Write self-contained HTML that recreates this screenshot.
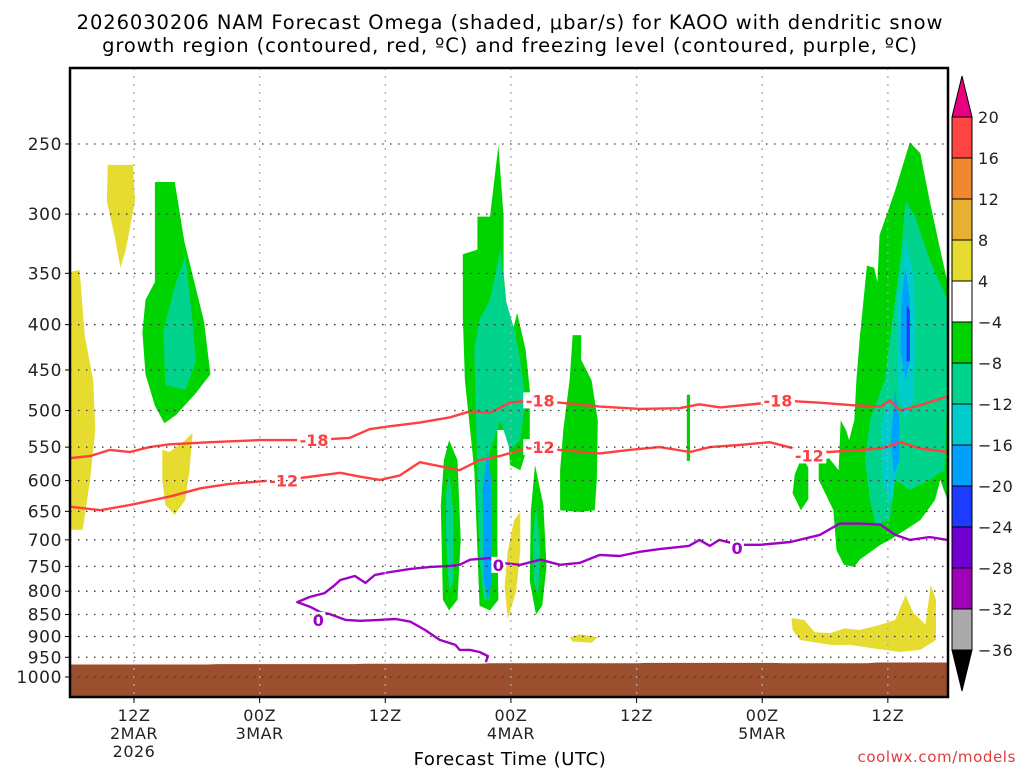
<!DOCTYPE html>
<html><head><meta charset="utf-8">
<style>
html,body{margin:0;padding:0;background:#fff;}
svg{display:block;font-family:"DejaVu Sans","Liberation Sans",sans-serif;}
</style></head>
<body>
<svg id="chart" width="1024" height="768" viewBox="0 0 1024 768" xmlns="http://www.w3.org/2000/svg">
<text x="510" y="29" font-size="19.5" letter-spacing="0.9" text-anchor="middle" fill="#000">2026030206 NAM Forecast Omega (shaded, μbar/s) for KAOO with dendritic snow</text>
<text x="510" y="52" font-size="19.5" letter-spacing="0.9" text-anchor="middle" fill="#000">growth region (contoured, red, ºC) and freezing level (contoured, purple, ºC)</text>
<g id="plot"></g>
<text x="510" y="765" font-size="18" letter-spacing="0.6" text-anchor="middle" fill="#000">Forecast Time (UTC)</text>
<text x="1016" y="762" font-size="15" letter-spacing="0.6" text-anchor="end" fill="#e03c3c">coolwx.com/models</text>
</svg>
<script>
// ---- axis tick data ----
const pressureTicks = [250,300,350,400,450,500,550,600,650,700,750,800,850,900,950,1000];
const timeTickHours = [12,24,36,48,60,72,84];
const timeTickLine1 = ["12Z","00Z","12Z","00Z","12Z","00Z","12Z"];
const timeTickLine2 = ["2MAR","3MAR","","4MAR","","5MAR",""];
const timeTickLine3 = ["2026","","","","","",""];
// ---- colorbar ----
const cbLevels = [20,16,12,8,4,-4,-8,-12,-16,-20,-24,-28,-32,-36];
const cbColors = ["#ff4444","#f08830","#e8b030","#e6dc30","#ffffff","#00d400","#00d48c","#00cccc","#00a0ff","#1e3cff","#7000d0","#a000b8","#aaaaaa"];
// ---- ground (surface pressure) ----
const groundHours = [5.8,19,20,33,34,45,46,60,61,73,74,82,83,89.8];
const groundP = [968,968,967,967,966,966,965,965,964,964,965,965,963,963];
// ---- -18C line ----
const m18Hours = [5.8,7.8,9.7,11.6,13.5,15.4,19.3,24,29,32.6,34.5,36.4,39.3,42.2,44.1,46,47.9,49.8,52.7,56.5,60.3,64.1,66,68,71.8,73.7,77.5,80.4,83.3,84.2,85.2,87.1,89.7];
const m18P = [566,563,554,557,550,546,543,540,540,537,525,521,516,509,501,503,490,487,490,495,498,497,492,496,491,487,490,493,495,487,500,493,482];
// ---- -12C line ----
const m12Hours = [5.8,8.8,11.7,15.5,18.4,21.2,25,27.9,31.7,33.6,35.5,37.4,39.3,41.2,43.1,45,46.9,48.3,49.8,52.7,56.5,59.3,62.2,65.1,67,69.8,72.7,75.6,78.4,81.3,83.3,85.2,87.1,89.7];
const m12P = [642,648,639,625,612,605,600,596,588,594,599,592,572,578,584,569,563,557,550,554,559,554,550,557,550,547,543,554,557,554,552,543,552,557];
// ---- 0C freezing level ----
const zeroHours = [45.6,45.8,45,44.1,43.1,42.7,41.2,39.8,38.4,37,35.5,33.6,32.2,30.7,29.8,28.8,27.6,28.8,30.2,31.2,31.7,33.1,34.1,35,36.5,38.4,40.3,42.2,43.1,44.1,46,47,48.9,50.8,52.7,54.6,56.5,58.4,60.3,62.2,65,66,67,67.9,69.8,71.8,74.7,77.5,79.4,81.3,83.3,84.7,86.1,88,89.7];
const zeroP = [962,947,937,932,932,920,908,885,866,860,862,864,862,849,845,833,823,812,804,787,777,769,783,767,761,755,751,749,747,737,734,743,747,737,747,743,728,730,722,717,711,700,711,700,709,709,704,691,671,671,673,691,700,695,700];
// ---- shaded omega regions ----
const blobLevels = [3,3,5,6,3,5,6,8,5,6,5,6,3,5,3,5,5,5,6,7,7,8,8,9,3];
const blobHours = [
 [5.8,6.8,7.3,8.1,8.3,7.8,7.1,5.8],
 [9.5,11.9,12.1,11.2,10.7,10.2,9.4],
 [14,15.9,16.8,18.7,19.3,17.9,16,14.9,14,13.1,12.8,13.1,14],
 [16.9,17.6,17.9,16.9,16,15,14.8,15.9],
 [14.7,15.4,16.9,17.6,17.3,16.9,15.9,15,14.7],
 [46.8,47.3,47.3,47.9,48.6,49.4,49.8,49.8,48.9,47.9,47.7,46.7,46.7,46.8,46,45,44.8,44.5,44.1,43.6,43.4,43.4,44.8,44.8,46],
 [47,47.5,48.4,48.9,49.4,48.9,47.9,47,46,45.7,46,45.4,45,44.8,44.5,45,46],
 [45.8,46.2,46.2,45.8,45.4,45.3],
 [42.1,42.9,43.2,42.9,42.1,41.5,41.3,41.6],
 [42.1,42.5,42.5,42.1,41.8,41.8],
 [50.3,51.1,51.4,51,50.4,49.8,49.9],
 [50.4,50.8,50.6,50.2,50.1],
 [48.3,48.9,48.9,48.5,47.7,47.4,47.7],
 [53.9,54.7,54.7,55.7,56.3,56.2,56,54.6,52.7,52.7,53,53.6],
 [53.6,54.6,56.3,55.7,53.9],
 [64.8,65.1,65.1,64.8],
 [75.1,75.8,76.4,76.4,75.7,74.9],
 [86.1,87.1,88,89,89.7,89.7,89,88.5,87.1,85.7,84.2,83.3,81.3,80.8,79.8,79.1,78.8,77.4,77.4,78.4,79.3,79.5,80,80.3,80.8,81,81.3,82,82.7,83,83.2,84.7],
 [85.7,86.6,88,89.7,89.7,89.4,88,86.1,84.7,84.2,82.8,82.3,81.8,82.3,83.7,84.2,85.2],
 [85.7,86.4,86.7,86.4,85.7,85,84.9],
 [84,84.8,84.9,84.3,83.5,83.4],
 [85.7,86.1,86.1,85.7,85.2,85.3],
 [84.7,85.1,85.1,84.6,84.3],
 [85.8,86.1,86.1,85.8],
 [74.8,76,77,78.5,79.9,81.3,83.3,84.7,85.7,86.4,87.6,88.1,88.6,88.6,87.1,85.2,82.3,80.4,78.5,75.6,74.9]
];
const blobP = [
 [349,347,412,462,526,600,682,682],
 [264,264,290,330,345,320,290],
 [276,276,322,397,455,478,506,517,494,455,408,375,358],
 [335,397,440,474,471,468,407,362],
 [554,557,540,530,584,631,656,639,600],
 [251,302,350,418,388,427,474,540,584,576,526,526,700,818,841,831,719,584,526,462,392,333,329,302,302],
 [329,375,408,440,487,540,554,513,554,665,818,818,737,584,427,395,375],
 [554,615,777,818,777,615],
 [540,569,700,818,841,818,640,569],
 [590,650,780,800,700,620],
 [576,640,750,830,850,780,650],
 [640,720,810,780,700],
 [665,651,720,800,860,790,720],
 [411,411,438,462,513,599,648,651,648,584,526,462],
 [902,895,902,915,912],
 [480,480,570,570],
 [591,563,580,630,648,620],
 [249,256,290,329,358,631,599,631,665,682,700,709,737,751,747,719,648,599,569,566,584,513,526,540,513,462,416,343,345,358,317,282],
 [290,302,338,375,474,584,599,615,599,665,673,631,569,513,462,416,338],
 [321,349,408,487,513,474,375],
 [487,513,580,640,600,520],
 [345,375,438,462,427,375],
 [474,513,569,590,540],
 [380,385,440,440],
 [858,862,890,892,881,885,873,862,808,845,873,787,818,908,932,937,927,920,920,908,885]
];
// ---- contour labels ----
const labelTexts = ["-18","-12","-18","-12","-18","-12","0","0","0"];
const labelHours = [29.2,26.3,50.8,50.8,73.5,76.5,29.6,46.8,69.6];
const labelP = [540,600,487,550,487,562,862,747,715];
const labelColors = ["#ff4040","#ff4040","#ff4040","#ff4040","#ff4040","#ff4040","#a000c8","#a000c8","#a000c8"];

const L=70,R=948,T=68,B=697;
function xs(h){return 134+(h-12)*10.47;}
function ys(p){return 677+384.5*Math.log(p/1000);}
const NS="http://www.w3.org/2000/svg";
const plot=document.getElementById('plot');
const svg=document.getElementById('chart');
function mk(tag,attrs,parent){const e=document.createElementNS(NS,tag);for(const k in attrs)e.setAttribute(k,attrs[k]);(parent||plot).appendChild(e);return e;}

const defs=mk('defs',{},svg);
const cp=mk('clipPath',{id:'clip'},defs);
mk('rect',{x:L,y:T,width:R-L,height:B-T},cp);
const g=mk('g',{'clip-path':'url(#clip)'});



for(let i=0;i<blobHours.length;i++){
  const pts=blobHours[i].map((h,j)=>xs(h).toFixed(1)+','+ys(blobP[i][j]).toFixed(1)).join(' ');
  const e=mk('polygon',{points:pts,fill:cbColors[blobLevels[i]]},g);
  
  
}
{
  let d='M'+xs(groundHours[0])+','+B;
  groundHours.forEach((h,j)=>{d+=' L'+xs(h).toFixed(1)+','+ys(groundP[j]).toFixed(1);});
  d+=' L'+xs(groundHours[groundHours.length-1])+','+B+' Z';
  const e=mk('path',{d:d,fill:'#9c4f2c'},g);
  
  
}
pressureTicks.forEach(p=>{
  const e=mk('line',{x1:L,x2:R,y1:ys(p),y2:ys(p),stroke:'#333','stroke-width':1.3,'stroke-dasharray':'1.5 6.5'});
  
  
});
timeTickHours.forEach(h=>{
  const e=mk('line',{x1:xs(h),x2:xs(h),y1:T,y2:B,stroke:'#aaa','stroke-width':1.3,'stroke-dasharray':'2 6'});
  
  
});
function line(hs,ps,color,name){
  const d=hs.map((h,j)=>(j?'L':'M')+xs(h).toFixed(1)+','+ys(ps[j]).toFixed(1)).join(' ');
  const e=mk('path',{d:d,fill:'none',stroke:color,'stroke-width':2.4,'stroke-linejoin':'round'},g);
  
  
}
line(m18Hours,m18P,'#ff4040','contour-minus18');
line(m12Hours,m12P,'#ff4040','contour-minus12');
line(zeroHours,zeroP,'#a000c8','freezing-level-0');
labelTexts.forEach((t,i)=>{
  const x=xs(labelHours[i]),y=ys(labelP[i]);
  const w=t.length*10+4;
  const r=mk('rect',{x:x-w/2,y:y-8,width:w,height:16,fill:'#fff'},g);
  
  
  const e=mk('text',{x:x,y:y+6,'font-size':16,'font-weight':'bold','text-anchor':'middle',fill:labelColors[i]},g);
  e.textContent=t;
  
  
});
{
const e=mk('rect',{x:L,y:T,width:R-L,height:B-T,fill:'none',stroke:'#000','stroke-width':2.5});


}
pressureTicks.forEach(p=>{
  const t=mk('line',{x1:L-5,x2:L,y1:ys(p),y2:ys(p),stroke:'#000','stroke-width':1});
  
  
  const e=mk('text',{x:L-8,y:ys(p)+6,'font-size':17,'letter-spacing':'0.6','text-anchor':'end',fill:'#222'});
  e.textContent=p;
  
  
});
timeTickHours.forEach((h,i)=>{
  const x=xs(h);
  const t=mk('line',{x1:x,x2:x,y1:B,y2:B+6,stroke:'#000','stroke-width':1});
  
  
  [timeTickLine1[i],timeTickLine2[i],timeTickLine3[i]].forEach((s,k)=>{
    if(!s)return;
    const e=mk('text',{x:x,y:721+k*18,'font-size':16,'letter-spacing':'0.5','text-anchor':'middle',fill:'#222'});
    e.textContent=s;
    
    
  });
});
const cbX=952,cbW=20,cbTop=117,cbStep=41;
function cy(i){return cbTop+i*cbStep;}
{
const e=mk('polygon',{points:`${cbX},${cy(0)} ${cbX+cbW},${cy(0)} ${cbX+cbW/2},${cy(0)-41}`,fill:'#e8007f',stroke:'#000','stroke-width':1});


}
cbColors.forEach((c,i)=>{
  const e=mk('rect',{x:cbX,y:cy(i),width:cbW,height:cbStep,fill:c,stroke:'#000','stroke-width':1});
  
  
});
{
const n=cbLevels.length-1;
const e=mk('polygon',{points:`${cbX},${cy(n)} ${cbX+cbW},${cy(n)} ${cbX+cbW/2},${cy(n)+41}`,fill:'#000',stroke:'#000','stroke-width':1});


}
cbLevels.forEach((v,i)=>{
  const e=mk('text',{x:978,y:cy(i)+6,'font-size':16,'letter-spacing':'0.5',fill:'#222'});
  e.textContent=v<0?('\u2212'+(-v)):String(v);
  
  
});
</script>
</body></html>
